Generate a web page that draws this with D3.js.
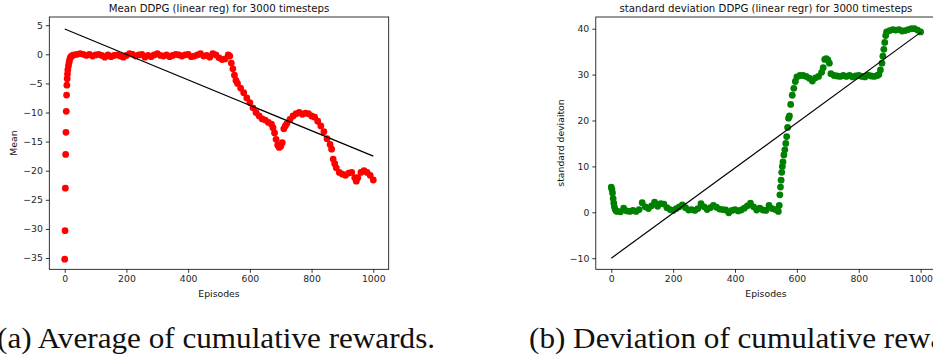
<!DOCTYPE html>
<html>
<head>
<meta charset="utf-8">
<script src="https://cdn.jsdelivr.net/npm/d3@7"></script>
<style>
  body { margin: 0; background: #fff; }
  svg { display: block; }
  .tick text { font-family: "DejaVu Sans", sans-serif; font-size: 9.3px; fill: #262626; }
  .tick line { stroke: #000; stroke-width: 0.8; }
  .lbl { font-family: "DejaVu Sans", sans-serif; font-size: 9.3px; fill: #111; }
  .ttl { font-family: "DejaVu Sans", sans-serif; font-size: 10.2px; fill: #111; }
  .cap { font-family: "Liberation Serif", serif; font-size: 29px; fill: #111; }
</style>
</head>
<body>
<script>
// --- data ---
var xTicks = [0, 200, 400, 600, 800, 1000];
var meanTicks = [5, 0, -5, -10, -15, -20, -25, -30, -35];
var stdTicks = [40, 30, 20, 10, 0, -10];

// mean reward per episode (left panel)
var meanEpisodes = [0, 1, 2, 3, 4, 5, 6, 7, 8, 9, 10, 12, 14, 16, 18, 20, 25,
  30, 40, 50, 60, 70, 80, 90, 100, 110, 120, 130, 140, 150, 160, 170, 180, 190, 200,
  210, 220, 230, 240, 250, 260, 270, 280, 290, 300, 310, 320, 330, 340, 350, 360,
  370, 380, 390, 400, 410, 420, 430, 440, 450, 460, 470, 480, 490, 500, 510, 520,
  530, 535, 540, 545, 550, 555, 560, 570, 580, 590, 600, 610, 620, 630, 640, 650,
  660, 670, 675, 680, 685, 690, 695, 700, 705, 710, 715, 720, 730, 740, 750, 760,
  770, 780, 790, 800, 810, 820, 830, 840, 850, 860, 865, 870, 875, 880, 890, 900,
  910, 920, 930, 940, 945, 950, 960, 970, 980, 990, 1000];
var meanValues = [-35.2, -30.3, -23.0, -17.2, -13.4, -9.8, -7.0, -5.3, -4.2, -3.4, -2.7, -2.0, -1.4, -0.9, -0.6, -0.4, -0.2,
  -0.1, 0.0, 0.1, 0.0, -0.2, 0.0, -0.3, -0.1, 0.0, -0.2, -0.5, -0.1, -0.4, -0.2, -0.1, -0.3, -0.5, -0.2,
  0.1, 0.0, -0.3, -0.1, 0.0, -0.5, -0.2, -0.4, -0.1, 0.1, -0.2, -0.3, -0.1, -0.4, -0.2, 0.0,
  -0.1, -0.3, -0.1, 0.0, -0.4, -0.3, -0.1, 0.1, -0.3, -0.2, -0.5, 0.1, -0.1, -0.6, -0.9, -0.8,
  -0.1, -0.3, -1.5, -2.5, -3.6, -4.5, -5.0, -5.8, -6.6, -7.5, -8.3, -9.2, -10.0, -10.6, -11.1, -11.3,
  -11.7, -12.0, -12.6, -13.5, -14.6, -15.6, -16.0, -15.8, -15.2, -12.8, -12.3, -11.9, -11.2, -10.6, -10.2, -10.0,
  -10.3, -10.1, -10.2, -10.6, -10.8, -11.5, -12.3, -13.3, -14.5, -15.5, -16.3, -18.0, -18.8, -19.5, -20.3, -20.6,
  -20.8, -20.4, -20.3, -21.2, -21.8, -21.2, -20.3, -20.0, -20.3, -20.8, -21.6];
var meanFit = [4.35, -17.5]; // regression line value at episode 0 and 1000

// standard deviation per episode (right panel)
var stdEpisodes = [0, 2, 4, 6, 8, 10, 13, 16, 20, 30, 40, 50, 60, 70, 80, 90, 100,
  110, 120, 130, 140, 150, 160, 170, 180, 190, 200, 210, 220, 230, 240, 250, 260, 270,
  280, 290, 300, 310, 320, 330, 340, 350, 360, 370, 380, 390, 400, 410, 420, 430, 440,
  450, 460, 470, 480, 490, 500, 510, 520, 530, 540, 543, 545, 547, 549, 551, 553, 555,
  558, 561, 564, 567, 570, 573, 576, 580, 585, 590, 595, 600, 610, 620, 630, 640, 650,
  660, 670, 680, 685, 690, 695, 700, 705, 710, 720, 730, 740, 750, 760, 770, 780, 790,
  800, 810, 820, 830, 840, 850, 860, 865, 870, 875, 878, 881, 884, 887, 890, 900, 910,
  920, 930, 940, 950, 960, 970, 980, 990, 1000];
var stdValues = [5.5, 5.0, 4.2, 3.0, 2.0, 1.2, 0.6, 0.3, 0.2, 0.1, 0.9, 0.3, 0.2, 0.4, 0.2, 0.6, 2.1,
  1.2, 0.8, 1.4, 2.2, 1.3, 1.9, 1.8, 1.0, 0.6, 0.4, 0.8, 1.2, 1.6, 1.0, 0.5, 0.6, 0.4,
  0.8, 1.9, 1.2, 0.6, 1.0, 1.5, 1.1, 0.7, 0.6, 0.5, -0.1, 0.4, 0.6, 0.3, 0.5, 0.9, 1.4,
  2.0, 1.2, 0.5, 0.9, 0.5, 0.4, 1.5, 0.8, 0.6, 0.2, 1.5, 3.8, 5.5, 7.0, 8.7, 10.0, 11.0,
  12.5, 13.6, 15.0, 16.5, 18.5, 20.5, 21.0, 23.5, 25.5, 27.0, 28.5, 29.5, 29.8, 29.8, 29.6, 29.2, 28.6,
  29.3, 29.6, 30.5, 31.5, 33.3, 33.5, 33.2, 32.5, 30.2, 29.8, 29.7, 29.6, 29.8, 29.6, 29.8, 29.5, 29.7,
  29.8, 29.6, 29.5, 29.9, 29.7, 29.6, 29.8, 30.0, 31.0, 32.5, 34.0, 35.5, 37.0, 38.5, 39.3, 39.6, 39.8,
  39.7, 39.8, 39.5, 39.6, 39.8, 40.0, 40.0, 39.7, 39.3];
var stdFit = [-10.0, 39.2];

var fitEpisodes = [0, 1000];

var W = 933, H = 358;
var svg = d3.select("body").append("svg").attr("width", W).attr("height", H);

function minusFmt(d) { return String(d).replace("-", "\u2212"); }

function panel(opt) {
  var x = d3.scaleLinear().domain([-50, 1050]).range(opt.xr);
  var y = d3.scaleLinear().domain(opt.yd).range([269.3, 17]);
  var g = svg.append("g");

  var pts = opt.eps.map(function (e, i) { return [e, opt.vals[i]]; });
  g.append("g").selectAll("circle").data(pts).enter().append("circle")
    .attr("cx", function (d) { return x(d[0]); })
    .attr("cy", function (d) { return y(d[1]); })
    .attr("r", 3.4)
    .attr("fill", opt.color);

  g.append("path")
    .datum(fitEpisodes.map(function (e, i) { return [e, opt.fit[i]]; }))
    .attr("d", d3.line().x(function (d) { return x(d[0]); }).y(function (d) { return y(d[1]); }))
    .attr("fill", "none").attr("stroke", "#000").attr("stroke-width", 1.2);

  g.append("rect")
    .attr("x", opt.xr[0]).attr("y", 17)
    .attr("width", opt.xr[1] - opt.xr[0]).attr("height", 269.3 - 17)
    .attr("fill", "none").attr("stroke", "#000").attr("stroke-width", 0.8);

  g.append("g").attr("transform", "translate(0,269.3)")
    .call(d3.axisBottom(x).tickValues(xTicks).tickSize(3.5).tickPadding(3).tickFormat(minusFmt))
    .call(function (a) { a.select(".domain").remove(); });
  g.append("g").attr("transform", "translate(" + opt.xr[0] + ",0)")
    .call(d3.axisLeft(y).tickValues(opt.ticks).tickSize(3.5).tickPadding(3).tickFormat(minusFmt))
    .call(function (a) { a.select(".domain").remove(); });

  g.append("text").attr("class", "lbl").attr("text-anchor", "middle")
    .attr("x", x(500)).attr("y", 297).text("Episodes");
  g.append("text").attr("class", "lbl").attr("text-anchor", "middle")
    .attr("transform", "translate(" + opt.ylx + ",143) rotate(-90)").text(opt.ylabel);
  g.append("text").attr("class", "ttl").attr("text-anchor", "middle")
    .attr("x", opt.tx).attr("y", 11.5).text(opt.title);
}

panel({
  xr: [49.3, 388.7], yd: [-36.94, 6.41], ticks: meanTicks,
  eps: meanEpisodes, vals: meanValues, fit: meanFit, color: "#ff0000",
  ylabel: "Mean", ylx: 17, title: "Mean DDPG (linear reg) for 3000 timesteps", tx: 219
});
panel({
  xr: [595.8, 936.1], yd: [-12.42, 42.55], ticks: stdTicks,
  eps: stdEpisodes, vals: stdValues, fit: stdFit, color: "#008000",
  ylabel: "standard deviaiton", ylx: 564, title: "standard deviation DDPG (linear regr) for 3000 timesteps", tx: 766
});

// captions, stretched horizontally to the wider Computer Modern look
svg.append("text").attr("class", "cap")
  .attr("transform", "translate(-3,348) scale(1.075,1)")
  .text("(a) Average of cumulative rewards.");
svg.append("text").attr("class", "cap")
  .attr("transform", "translate(529,348) scale(1.075,1)")
  .text("(b) Deviation of cumulative rewards.");
</script>
</body>
</html>
